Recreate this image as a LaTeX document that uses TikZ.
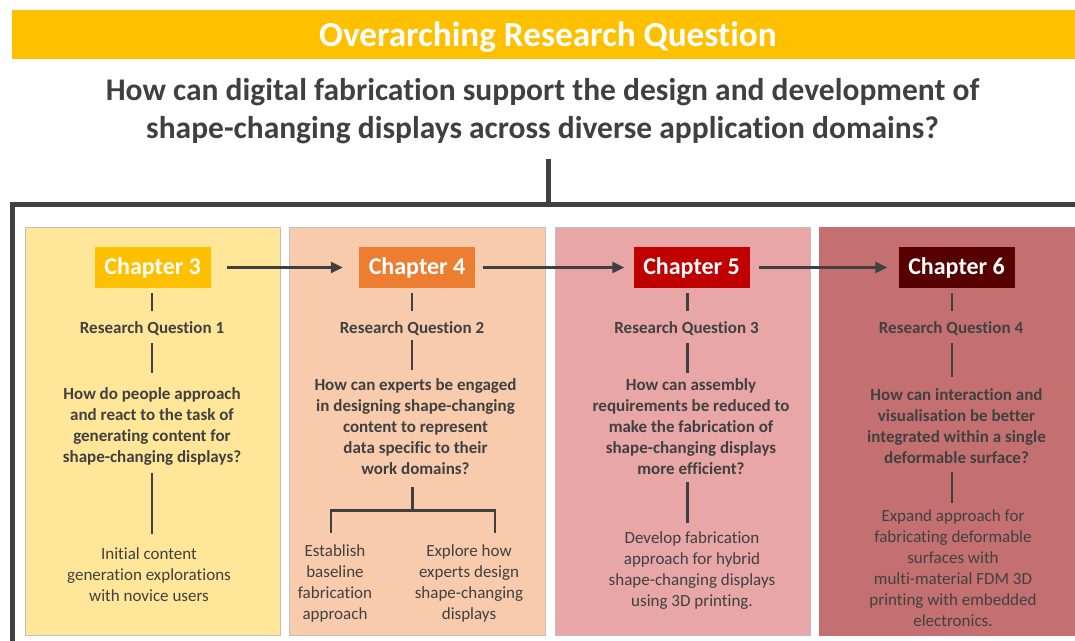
\documentclass[tikz,border=0pt]{standalone}
\usepackage{fontspec}
\setmainfont{Carlito}[Ligatures=NoCommon]
\usetikzlibrary{arrows.meta}
\definecolor{dark}{HTML}{404040}
\definecolor{gold}{HTML}{FFC000}
\definecolor{orangec}{HTML}{ED7D31}
\definecolor{redc}{HTML}{C00000}
\definecolor{maroonc}{HTML}{560000}
\definecolor{pA}{HTML}{FFE699}
\definecolor{pB}{HTML}{F8CBAD}
\definecolor{pC}{HTML}{E8A6A6}
\definecolor{pD}{HTML}{C57070}
\definecolor{pline}{HTML}{BFBFBF}
\begin{document}
\begin{tikzpicture}[x=1pt,y=-1pt,
  panel/.style={draw=pline, line width=1pt, inner sep=0pt, minimum height=408pt},
  chap/.style={minimum width=116pt, minimum height=41pt, inner sep=0pt, text=white, font=\fontsize{24}{28}\selectfont\bfseries},
  rq/.style={text=dark, inner sep=0pt, font=\fontsize{17}{21}\selectfont\bfseries},
  qtext/.style={text=dark, inner sep=0pt, align=center, font=\fontsize{17}{21}\selectfont\bfseries},
  body/.style={text=dark, inner sep=0pt, align=center, font=\fontsize{17}{21}\selectfont},
  conn/.style={draw=dark, line width=2.5pt},
  arr/.style={draw=dark, line width=2.5pt, -{Triangle[length=12pt,width=11pt]}},
  frame/.style={draw=dark, line width=5pt, line join=miter}
]
\useasboundingbox (0,0) rectangle (1075,640);
% banner and overarching question
\node[fill=gold, minimum width=1063pt, minimum height=49pt, inner sep=0pt, anchor=north west] (banner) at (12,10) {};
\node[text=white, inner sep=0pt, font=\fontsize{35.2}{40}\selectfont\bfseries] (title) at (548,37) {Overarching Research Question};
\node[text=dark, align=center, inner sep=0pt, font=\fontsize{31.5}{38}\selectfont\bfseries] (orq) at (542.5,111) {How can digital fabrication support the design and development of\\shape-changing displays across diverse application domains?};
\coordinate (fj) at (548.5,204);
\draw[frame] (fj |- 0,159) -- (fj);
\draw[frame] (1080,204) -- (12,204) -- (12,645);
% panels
\node[panel, fill=pA, minimum width=255pt] (P1) at (152.5,431) {};
\node[panel, fill=pB, minimum width=256pt] (P2) at (417,431) {};
\node[panel, fill=pC, minimum width=255pt] (P3) at (682.5,431) {};
\node[panel, fill=pD, draw=pD, minimum width=258pt] (P4) at (948,431) {};
% chapters
\node[chap, fill=gold] (ch3) at (152.7,267.5) {Chapter 3};
\node[chap, fill=orangec] (ch4) at (417,267.5) {Chapter 4};
\node[chap, fill=redc] (ch5) at (691.5,267.5) {Chapter 5};
\node[chap, fill=maroonc] (ch6) at (956.5,267.5) {Chapter 6};
\draw[arr, shorten <=16pt, shorten >=16pt] (ch3) -- (ch4);
\draw[arr, shorten <=8pt, shorten >=9pt] (ch4) -- (ch5);
\draw[arr, shorten <=9pt, shorten >=11pt] (ch5) -- (ch6);
% panel 1
\node[rq] (rq1) at (152,329) {Research Question 1};
\node[qtext] (q1) at (152,426.2) {How do people approach\\and react to the task of\\generating content for\\shape-changing displays?};
\node[body] (b1) at (149,575) {Initial content\\generation explorations\\with novice users};
\draw[conn] (rq1.north |- 0,293) -- (rq1.north |- 0,311);
\draw[conn] (rq1.south |- 0,343) -- (rq1.south |- 0,373);
\draw[conn] (rq1.south |- 0,473) -- (rq1.south |- 0,534);
% panel 2
\node[rq] (rq2) at (412,329) {Research Question 2};
\node[qtext] (q2) at (415.5,426.8) {How can experts be engaged\\in designing shape-changing\\content to represent\\data specific to their\\work domains?};
\node[body] (b2a) at (335,583.3) {Establish\\baseline\\fabrication\\approach};
\node[body] (b2b) at (469,583.3) {Explore how\\experts design\\shape-changing\\displays};
\draw[conn] (rq2.north |- 0,293) -- (rq2.north |- 0,311);
\draw[conn] (rq2.south |- 0,340) -- (rq2.south |- 0,370);
\coordinate (br) at (412.5,510.5);
\coordinate (brL) at (331,510.5);
\coordinate (brR) at (495,510.5);
\draw[conn] (br |- 0,487) -- (br);
\draw[conn, line join=miter] (brL |- 0,532.5) -- (brL) -- (brR) -- (brR |- 0,532.5);
% panel 3
\node[rq] (rq3) at (686.5,329) {Research Question 3};
\node[qtext] (q3) at (691,426.2) {How can assembly\\requirements be reduced to\\make the fabrication of\\shape-changing displays\\more efficient?};
\node[body] (b3) at (692,571) {Develop fabrication\\approach for hybrid\\shape-changing displays\\using 3D printing.};
\coordinate (x3) at (687.4,0);
\draw[conn] (x3 |- 0,293) -- (x3 |- 0,311);
\draw[conn] (x3 |- 0,343) -- (x3 |- 0,373);
\draw[conn] (x3 |- 0,482) -- (x3 |- 0,523);
% panel 4
\node[rq] (rq4) at (951,329) {Research Question 4};
\node[qtext] (q4) at (956.5,425.8) {How can interaction and\\visualisation be better\\integrated within a single\\deformable surface?};
\node[body] (b4) at (953,568.5) {Expand approach for\\fabricating deformable\\surfaces with\\multi-material FDM 3D\\printing with embedded\\electronics.};
\coordinate (x4) at (952,0);
\draw[conn] (x4 |- 0,293) -- (x4 |- 0,311);
\draw[conn] (x4 |- 0,343) -- (x4 |- 0,377);
\draw[conn] (x4 |- 0,472) -- (x4 |- 0,503);
\end{tikzpicture}
\end{document}
